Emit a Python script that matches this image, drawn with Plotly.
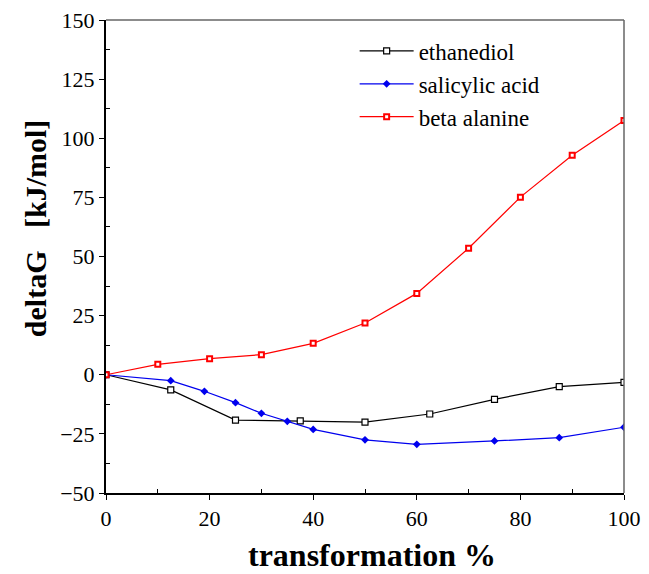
import plotly.graph_objects as go

eth_x = [0, 12.5, 25, 37.5, 50, 62.5, 75, 87.5, 100]
eth_y = [0, -6.4, -19.2, -19.5, -20.0, -16.6, -10.4, -5.0, -3.2]

sal_x = [0, 12.5, 19, 25, 30, 35, 40, 50, 60, 75, 87.5, 100]
sal_y = [0, -2.5, -7.0, -11.8, -16.3, -19.7, -23.1, -27.5, -29.4, -28.0, -26.6, -22.2]

bal_x = [0, 10, 20, 30, 40, 50, 60, 70, 80, 90, 100]
bal_y = [0, 4.4, 6.8, 8.5, 13.3, 21.9, 34.4, 53.5, 75.1, 92.8, 107.5]

serif = "Liberation Serif"

fig = go.Figure()
fig.add_trace(go.Scatter(x=eth_x, y=eth_y, name="ethanediol", mode="lines+markers",
                         line=dict(color="black", width=1.2),
                         marker=dict(symbol="square", size=6, color="white",
                                     line=dict(color="black", width=1.2))))
fig.add_trace(go.Scatter(x=sal_x, y=sal_y, name="salicylic acid", mode="lines+markers",
                         line=dict(color="#0000ee", width=1.2),
                         marker=dict(symbol="diamond", size=6, color="#0000ee")))
fig.add_trace(go.Scatter(x=bal_x, y=bal_y, name="beta alanine", mode="lines+markers",
                         line=dict(color="#ff0000", width=1.2),
                         marker=dict(symbol="square", size=5, color="white",
                                     line=dict(color="#ff0000", width=2))))

fig.update_layout(
    width=649, height=574,
    margin=dict(l=106, r=25, t=20, b=81, autoexpand=False),
    plot_bgcolor="white", paper_bgcolor="white",
    font=dict(family=serif, size=22, color="black"),
    legend=dict(x=0.48, y=0.98, xanchor="left", yanchor="top",
                font=dict(family=serif, size=23, color="black"),
                bgcolor="rgba(0,0,0,0)", itemwidth=54, tracegroupgap=0),
    shapes=[
        dict(type="line", xref="paper", yref="paper", x0=0, x1=1, y0=1, y1=1,
             line=dict(color="#666666", width=1.5)),
        dict(type="line", xref="paper", yref="paper", x0=1, x1=1, y0=0, y1=1,
             line=dict(color="#666666", width=1.5)),
    ],
    annotations=[
        dict(text="<b>deltaG\u00a0\u00a0\u00a0[kJ/mol]</b>", textangle=-90,
             xref="paper", yref="paper", x=-0.137, y=0.56,
             xanchor="center", yanchor="middle", showarrow=False,
             font=dict(family=serif, size=30, color="black")),
        dict(text="<b>transformation %</b>",
             xref="paper", yref="paper", x=0.514, y=-0.131,
             xanchor="center", yanchor="middle", showarrow=False,
             font=dict(family=serif, size=32, color="black")),
    ],
)

fig.update_xaxes(range=[0, 100], tickvals=[0, 20, 40, 60, 80, 100],
                 showgrid=False, zeroline=False, showline=True, linecolor="black",
                 linewidth=2, ticks="outside", ticklen=5, tickcolor="black",
                 tickfont=dict(family=serif, size=22), automargin=False,
                 minor=dict(tickvals=[10, 30, 50, 70, 90], ticks="inside",
                            ticklen=4, tickcolor="black"))
fig.update_yaxes(range=[-50, 150], tickvals=[-50, -25, 0, 25, 50, 75, 100, 125, 150],
                 showgrid=False, zeroline=False, showline=True, linecolor="black",
                 linewidth=2, ticks="outside", ticklen=5, tickcolor="black",
                 tickfont=dict(family=serif, size=22), automargin=False,
                 ticksuffix="\u00a0\u2009",
                 minor=dict(tickvals=[-37.5, -12.5, 12.5, 37.5, 62.5, 87.5, 112.5, 137.5],
                            ticks="inside", ticklen=4, tickcolor="black"))

fig.write_html("out.html")
